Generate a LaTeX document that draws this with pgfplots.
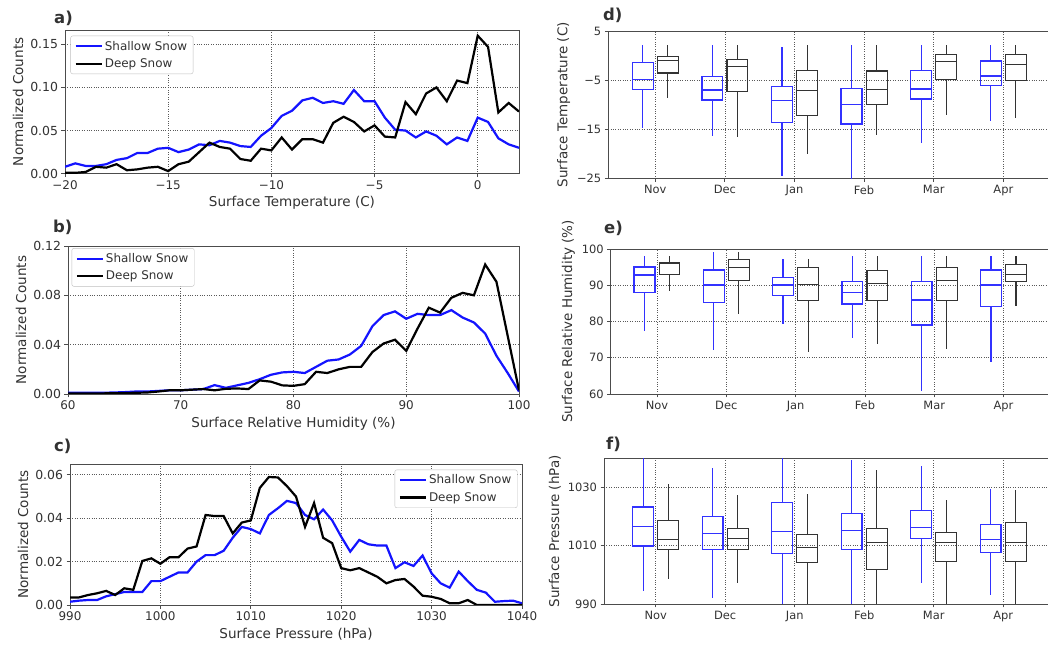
\documentclass[border=0pt]{standalone}
\usepackage{pgfplots}
\pgfplotsset{compat=1.18}
\usepgfplotslibrary{statistics}
\usepackage{fontspec}
\setmainfont{DejaVu Sans}
\definecolor{sb}{RGB}{20,20,255}
\definecolor{bx}{RGB}{50,50,255}
\definecolor{txt}{RGB}{50,50,50}
\pgfplotsset{
  panel/.style={scale only axis, anchor=south west, scaled ticks=false,
    /pgf/number format/assume math mode=true,
    axis line style={black!70, line width=0.9bp},
    tick style={black!70, line width=0.8bp},
    tick align=outside, major tick length=3.5bp, tick pos=left,
    grid=major, major grid style={black!65, dotted, line width=0.7bp},
    label style={font=\fontsize{13.6}{16}\selectfont, text=txt},
  },
  left/.style={panel, yticklabel style={font=\fontsize{12.5}{14}\selectfont, text=txt},
    xticklabel style={font=\fontsize{12}{14}\selectfont, text=txt},
    ylabel={Normalized Counts},
    legend style={draw=black!25, rounded corners=2bp, font=\fontsize{12}{14}\selectfont,
      text=txt, row sep=3bp, inner xsep=4bp, inner ysep=3bp, cells={anchor=west}},
    legend image code/.code={\draw[##1, line width=2.2bp] (0bp,0bp) -- (26bp,0bp);},
  },
  right/.style={panel, ticklabel style={font=\fontsize{11.5}{13}\selectfont, text=txt},
    xmax=5.675, xtick={0,1,2,3,4,5}, xticklabels={Nov,Dec,Jan,Feb,Mar,Apr},
    label style={font=\fontsize{13.5}{15}\selectfont, text=txt},
    boxplot/draw direction=y,
  },
  sh/.style={sb, line width=2.2bp},
  dp/.style={black, line width=2.2bp},
  bb/.style={bx, line width=1.3bp, solid},
  kb/.style={black!80, line width=1.05bp, solid},
}
% style, position, lower whisker, lower quartile, median, upper quartile, upper whisker
\newcommand{\bp}[7]{\addplot[#1, boxplot prepared={draw position=#2, lower whisker=#3, lower quartile=#4, median=#5, upper quartile=#6, upper whisker=#7, box extend=0.3, whisker extend=0}] coordinates {};}
\begin{document}
\begin{tikzpicture}
% ---------- a) ----------
\begin{axis}[left, at={(65bp,473.3bp)}, width=454bp, height=143.7bp,
  xmin=-20, xmax=2, ymin=0, ymax=0.1666,
  xtick={-20,-15,-10,-5,0}, xticklabels={−20,−15,−10,−5,0},
  ytick={0,0.05,0.10,0.15}, yticklabels={0.00,0.05,0.10,0.15},
  xlabel={Surface Temperature (C)},
  legend style={at={(0.012,0.96)}, anchor=north west}]
\addplot[sh] coordinates {(-20,.008)(-19.5,.012)(-19,.009)(-18.5,.009)(-18,.011)(-17.5,.016)(-17,.018)(-16.5,.024)(-16,.024)(-15.5,.029)(-15,.030)(-14.5,.025)(-14,.028)(-13.5,.034)(-13,.033)(-12.5,.038)(-12,.036)(-11.5,.032)(-11,.031)(-10.5,.044)(-10,.053)(-9.5,.067)(-9,.073)(-8.5,.085)(-8,.088)(-7.5,.082)(-7,.084)(-6.5,.081)(-6,.097)(-5.5,.084)(-5,.084)(-4.5,.065)(-4,.051)(-3.5,.050)(-3,.042)(-2.5,.049)(-2,.044)(-1.5,.034)(-1,.042)(-0.5,.038)(0,.065)(0.5,.060)(1,.041)(1.5,.034)(2,.030)};
\addlegendentry{Shallow Snow}
\addplot[dp] coordinates {(-20,.001)(-19.5,.001)(-19,.002)(-18.5,.008)(-18,.007)(-17.5,.011)(-17,.004)(-16.5,.005)(-16,.007)(-15.5,.008)(-15,.003)(-14.5,.011)(-14,.014)(-13.5,.025)(-13,.036)(-12.5,.031)(-12,.029)(-11.5,.017)(-11,.015)(-10.5,.029)(-10,.027)(-9.5,.042)(-9,.028)(-8.5,.040)(-8,.040)(-7.5,.036)(-7,.059)(-6.5,.066)(-6,.060)(-5.5,.049)(-5,.056)(-4.5,.043)(-4,.042)(-3.5,.083)(-3,.069)(-2.5,.093)(-2,.100)(-1.5,.084)(-1,.108)(-0.5,.105)(0,.160)(0.5,.147)(1,.071)(1.5,.082)(2,.072)};
\addlegendentry{Deep Snow}
\end{axis}
% ---------- b) ----------
\begin{axis}[left, at={(68bp,253bp)}, width=451bp, height=148bp,
  xmin=60, xmax=100, ymin=0, ymax=0.12,
  xtick={60,70,80,90,100},
  ytick={0,0.04,0.08,0.12}, yticklabels={0.00,0.04,0.08,0.12},
  xlabel={Surface Relative Humidity (\%)},
  legend style={at={(0.008,0.985)}, anchor=north west}]
\addplot[sh] coordinates {(60,.001)(61,.001)(62,.001)(63,.001)(64,.0012)(65,.0015)(66,.002)(67,.002)(68,.0025)(69,.003)(70,.003)(71,.0035)(72,.004)(73,.0072)(74,.005)(75,.007)(76,.009)(77,.012)(78,.0156)(79,.0175)(80,.018)(81,.017)(82,.022)(83,.027)(84,.028)(85,.032)(86,.039)(87,.055)(88,.064)(89,.067)(90,.061)(91,.065)(92,.064)(93,.064)(94,.068)(95,.062)(96,.058)(97,.049)(98,.031)(99,.017)(100,.002)};
\addlegendentry{Shallow Snow}
\addplot[dp] coordinates {(60,.0005)(61,.0005)(62,.0005)(63,.0005)(64,.0006)(65,.0008)(66,.001)(67,.0012)(68,.002)(69,.003)(70,.003)(71,.0035)(72,.004)(73,.003)(74,.0042)(75,.0045)(76,.004)(77,.011)(78,.010)(79,.007)(80,.0066)(81,.008)(82,.018)(83,.017)(84,.020)(85,.022)(86,.022)(87,.034)(88,.041)(89,.044)(90,.035)(91,.053)(92,.070)(93,.066)(94,.078)(95,.082)(96,.080)(97,.105)(98,.091)(99,.047)(100,.003)};
\addlegendentry{Deep Snow}
\end{axis}
% ---------- c) ----------
\begin{axis}[left, at={(70bp,42bp)}, width=452bp, height=141bp,
  xmin=990, xmax=1040, ymin=0, ymax=0.065,
  xtick={990,1000,1010,1020,1030,1040},
  /pgf/number format/set thousands separator={},
  ytick={0,0.02,0.04,0.06}, yticklabels={0.00,0.02,0.04,0.06},
  xlabel={Surface Pressure (hPa)},
  legend style={at={(0.99,0.96)}, anchor=north east}]
\addplot[sh] coordinates {(990,.0015)(991,.002)(992,.0023)(993,.0023)(994,.004)(995,.005)(996,.006)(997,.006)(998,.006)(999,.011)(1000,.011)(1001,.013)(1002,.015)(1003,.015)(1004,.020)(1005,.023)(1006,.023)(1007,.025)(1008,.031)(1009,.036)(1010,.035)(1011,.033)(1012,.0415)(1013,.0446)(1014,.048)(1015,.047)(1016,.0415)(1017,.0395)(1018,.044)(1019,.039)(1020,.0315)(1021,.0246)(1022,.030)(1023,.028)(1024,.0274)(1025,.0274)(1026,.017)(1027,.0197)(1028,.018)(1029,.0228)(1030,.0146)(1031,.010)(1032,.008)(1033,.0154)(1034,.011)(1035,.007)(1036,.0057)(1037,.0015)(1038,.0018)(1039,.002)(1040,.0008)};
\addlegendentry{Shallow Snow}
\addplot[dp] coordinates {(990,.0035)(991,.0035)(992,.0046)(993,.0054)(994,.0065)(995,.0046)(996,.0077)(997,.007)(998,.0203)(999,.0215)(1000,.019)(1001,.022)(1002,.022)(1003,.026)(1004,.027)(1005,.0415)(1006,.041)(1007,.041)(1008,.033)(1009,.038)(1010,.039)(1011,.054)(1012,.059)(1013,.0588)(1014,.0548)(1015,.050)(1016,.036)(1017,.047)(1018,.031)(1019,.0285)(1020,.017)(1021,.016)(1022,.017)(1023,.015)(1024,.013)(1025,.010)(1026,.0115)(1027,.012)(1028,.0085)(1029,.0043)(1030,.0038)(1031,.0028)(1032,.0008)(1033,.0008)(1034,.0023)(1035,0)(1036,0)(1037,0)(1038,0)(1039,0)(1040,0)};
\addlegendentry{Deep Snow}
\end{axis}
% ---------- d) ----------
\begin{axis}[right, at={(608.3bp,468.7bp)}, width=442bp, height=147.3bp,
  xmin=-0.675, ymin=-25, ymax=5,
  ytick={-25,-15,-5,5}, yticklabels={−25,−15,−5,5},
  ylabel={Surface Temperature (C)}]
\bp{bb}{-0.18}{-14.8}{-6.9}{-4.85}{-1.45}{2.15}
\bp{kb}{0.18}{-8.6}{-3.55}{-1.1}{-0.1}{2.15}
\bp{bb}{0.82}{-16.3}{-9.05}{-7.0}{-4.2}{2.15}
\bp{kb}{1.18}{-16.65}{-7.35}{-2.2}{-0.8}{2.15}
\bp{bb}{1.82}{-24.5}{-13.6}{-9.2}{-6.35}{1.7}
\bp{kb}{2.18}{-19.98}{-12.25}{-7.15}{-3.0}{2.15}
\bp{bb}{2.82}{-26}{-13.95}{-9.95}{-6.7}{2.15}
\bp{kb}{3.18}{-16.25}{-10.05}{-7.0}{-3.15}{2.15}
\bp{bb}{3.82}{-17.9}{-8.85}{-6.8}{-3.0}{2.15}
\bp{kb}{4.18}{-12.2}{-4.9}{-1.3}{0.25}{2.15}
\bp{bb}{4.82}{-13.25}{-6.05}{-4.15}{-1.1}{2.15}
\bp{kb}{5.18}{-12.8}{-5.0}{-1.8}{0.25}{2.15}
\end{axis}
% ---------- e) ----------
\begin{axis}[right, at={(610.7bp,253bp)}, width=439.6bp, height=145bp,
  xmin=-0.668, ymin=60, ymax=100,
  ytick={60,70,80,90,100},
  ylabel={Surface Relative Humidity (\%)}]
\bp{bb}{-0.18}{77.4}{88.0}{92.8}{95.0}{98.2}
\bp{kb}{0.18}{88.4}{93.0}{96.0}{96.2}{98.2}
\bp{bb}{0.82}{72.0}{85.2}{90.1}{94.2}{99.3}
\bp{kb}{1.18}{82.0}{91.2}{94.9}{97.2}{99.3}
\bp{bb}{1.82}{79.4}{87.1}{90.1}{92.2}{97.2}
\bp{kb}{2.18}{71.5}{85.7}{90.1}{95.0}{97.2}
\bp{bb}{2.82}{75.5}{84.8}{88.0}{91.1}{98.2}
\bp{kb}{3.18}{73.7}{85.9}{90.4}{94.2}{98.2}
\bp{bb}{3.82}{60.8}{79.0}{85.9}{91.1}{98.2}
\bp{kb}{4.18}{72.3}{85.9}{91.3}{95.0}{98.2}
\bp{bb}{4.82}{68.8}{84.1}{90.1}{94.2}{98.2}
\bp{kb}{5.18}{84.2}{91.1}{93.0}{95.6}{98.2}
\end{axis}
% ---------- f) (values in hPa above 1000) ----------
\begin{axis}[right, at={(604bp,43bp)}, width=446.1bp, height=145.3bp,
  xmin=-0.744, ymin=-10, ymax=39.7,
  ytick={-10,10,30}, yticklabels={990,1010,1030},
  ylabel={Surface Pressure (hPa)}]
\bp{bb}{-0.18}{-5.6}{9.8}{16.5}{23.2}{43}
\bp{kb}{0.18}{-1.4}{8.5}{12.1}{18.4}{31}
\bp{bb}{0.82}{-8.1}{8.6}{14.2}{19.9}{36.4}
\bp{kb}{1.18}{-2.8}{8.5}{12.4}{15.9}{27.3}
\bp{bb}{1.82}{-13}{7.3}{14.9}{24.7}{43}
\bp{kb}{2.18}{-13}{4.2}{9.2}{13.8}{27.5}
\bp{bb}{2.82}{-13}{8.6}{15.2}{21.0}{39.3}
\bp{kb}{3.18}{-13}{1.9}{10.9}{15.9}{35.7}
\bp{bb}{3.82}{-2.8}{12.3}{16.2}{22.1}{37.2}
\bp{kb}{4.18}{-13}{4.4}{11.1}{14.6}{25.5}
\bp{bb}{4.82}{-6.9}{7.6}{12.1}{17.3}{29.5}
\bp{kb}{5.18}{-13}{4.4}{10.9}{17.9}{29.0}
\end{axis}
% ---------- panel letters ----------
\begin{scope}[every node/.style={anchor=west, font=\fontsize{16.5}{18}\bfseries\selectfont, text=txt, inner sep=0pt}]
\node at (54bp,629bp) {a)};
\node at (53bp,420bp) {b)};
\node at (54bp,201bp) {c)};
\node at (603bp,632bp) {d)};
\node at (604bp,419bp) {e)};
\node at (606bp,203bp) {f)};
\end{scope}
\pgfresetboundingbox
\useasboundingbox (0bp,0bp) rectangle (1048bp,647bp);
\end{tikzpicture}
\end{document}
